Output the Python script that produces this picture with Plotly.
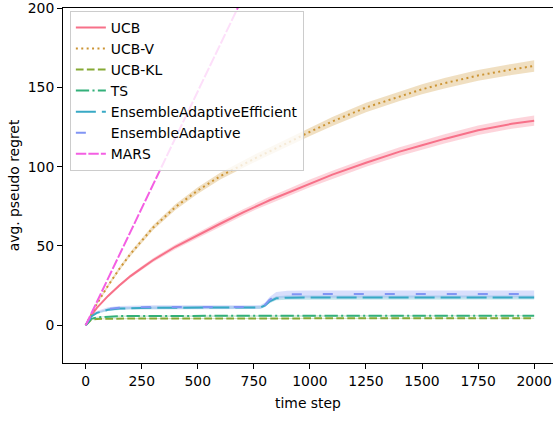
import plotly.graph_objects as go

# ---------------- data ----------------
steps = [0, 25, 50, 100, 150, 200, 250, 300, 400, 500, 600, 700, 750, 780, 800, 820, 850, 900,
         1000, 1100, 1250, 1400, 1500, 1600, 1750, 1900, 2000]

ucb = [0, 6, 11, 18.5, 25, 31, 36, 41, 49.5, 57, 64, 71, 74.5, 76.5, 77.5, 78.8, 80.5, 83.5,
       89.5, 95, 102.5, 109.5, 113.5, 117.5, 123, 127, 129]
ucb_sd = [0, 0.3, 0.5, 0.7, 0.9, 1.0, 1.2, 1.3, 1.5, 1.7, 1.9, 2.0, 2.1, 2.1, 2.2, 2.2, 2.2, 2.3,
          2.4, 2.5, 2.6, 2.7, 2.8, 2.9, 3.0, 3.1, 3.2]

ucbv = [0, 7, 13.5, 25, 35.5, 45, 53.5, 61.5, 74.5, 85, 94, 101.5, 105, 107, 108.3, 109.6, 111.6, 115,
        122, 128.5, 137.3, 144.5, 148.8, 152.6, 157.5, 161.3, 163.5]
ucbv_sd = [0, 0.5, 0.8, 1.0, 1.2, 1.4, 1.5, 1.6, 1.8, 2.0, 2.1, 2.3, 2.4, 2.4, 2.5, 2.5, 2.5, 2.6,
           2.7, 2.8, 3.0, 3.1, 3.2, 3.3, 3.4, 3.5, 3.6]

ucbkl = [0, 3.5, 4.0, 4.2, 4.3, 4.3, 4.3, 4.3, 4.3, 4.3, 4.3, 4.4, 4.4, 4.4, 4.4, 4.4, 4.4, 4.4,
         4.4, 4.4, 4.4, 4.4, 4.4, 4.4, 4.4, 4.4, 4.4]
ucbkl_sd = [0, 0.2, 0.25, 0.3, 0.3, 0.3, 0.3, 0.3, 0.3, 0.3, 0.3, 0.3, 0.3, 0.3, 0.3, 0.3, 0.3, 0.3,
            0.3, 0.3, 0.3, 0.3, 0.3, 0.3, 0.3, 0.3, 0.3]

ts = [0, 4.0, 5.0, 5.6, 5.8, 5.9, 5.9, 5.9, 6.0, 6.0, 6.0, 6.0, 6.0, 6.0, 6.0, 6.0, 6.0, 6.0,
      6.0, 6.0, 6.0, 6.0, 6.0, 6.0, 6.0, 6.0, 6.0]
ts_sd = [0, 0.2, 0.3, 0.3, 0.3, 0.3, 0.3, 0.3, 0.3, 0.3, 0.3, 0.3, 0.3, 0.3, 0.3, 0.3, 0.3, 0.3,
         0.3, 0.3, 0.3, 0.3, 0.3, 0.3, 0.3, 0.3, 0.3]

eae = [0, 5.5, 7.8, 9.8, 10.5, 10.8, 11.0, 11.0, 11.1, 11.1, 11.1, 11.1, 11.1, 11.2, 12.5, 15.0, 17.0, 17.4,
       17.5, 17.5, 17.5, 17.5, 17.5, 17.5, 17.5, 17.5, 17.5]
eae_sd = [0, 0.4, 0.6, 0.8, 0.9, 0.9, 0.9, 0.9, 0.9, 0.9, 0.9, 0.9, 0.9, 0.9, 1.0, 1.2, 1.3, 1.3,
          1.3, 1.3, 1.3, 1.3, 1.3, 1.3, 1.3, 1.3, 1.3]

ea = [0, 5.8, 8.2, 10.3, 11.0, 11.3, 11.5, 11.5, 11.5, 11.5, 11.5, 11.5, 11.5, 11.6, 13.0, 16.0, 18.8, 19.5,
      19.7, 19.7, 19.7, 19.7, 19.7, 19.7, 19.7, 19.7, 19.7]
ea_sd = [0, 0.5, 0.8, 1.0, 1.1, 1.1, 1.1, 1.1, 1.1, 1.1, 1.1, 1.1, 1.1, 1.1, 1.4, 1.8, 2.1, 2.2,
         2.2, 2.2, 2.2, 2.2, 2.2, 2.2, 2.2, 2.2, 2.2]

mars_steps = [0, 100, 200, 300, 400, 500, 600, 700, 800, 900]
mars = [0, 29.5, 59, 88.5, 118, 147.5, 177, 206.5, 236, 265.5]

x_ticks = [0, 250, 500, 750, 1000, 1250, 1500, 1750, 2000]
y_ticks = [0, 50, 100, 150, 200]

# ---------------- figure ----------------
series = [
    ("UCB", steps, ucb, ucb_sd, "#f77189", "solid"),
    ("UCB-V", steps, ucbv, ucbv_sd, "#cc9433", "2px,3.4px"),
    ("UCB-KL", steps, ucbkl, ucbkl_sd, "#86a935", "7.7px,3.3px"),
    ("TS", steps, ts, ts_sd, "#33b07a", "13.3px,3.3px,2.1px,3.3px"),
    ("EnsembleAdaptiveEfficient", steps, eae, eae_sd, "#38a9c5", "20px,6px"),
    ("EnsembleAdaptive", steps, ea, ea_sd, "#8195f4", "10px,21px"),
    ("MARS", mars_steps, mars, None, "#f45fe3", "10.4px,2.1px"),
]


def rgba(hexc, a):
    h = hexc.lstrip("#")
    r, g, b = int(h[0:2], 16), int(h[2:4], 16), int(h[4:6], 16)
    return f"rgba({r},{g},{b},{a})"


fig = go.Figure()
for name, xs, ys, sd, col, dash in series:
    if sd is not None:
        upper = [y + s for y, s in zip(ys, sd)]
        lower = [y - s for y, s in zip(ys, sd)]
        fig.add_trace(go.Scatter(
            x=list(xs) + list(xs)[::-1], y=upper + lower[::-1],
            fill="toself", fillcolor=rgba(col, 0.3), line=dict(width=0),
            mode="lines", showlegend=False, hoverinfo="skip"))
for name, xs, ys, sd, col, dash in series:
    fig.add_trace(go.Scatter(
        x=xs, y=ys, mode="lines", name=name,
        line=dict(color=col, width=2, dash=dash)))

FS = 13.9
axis_font = dict(family="DejaVu Sans", size=FS, color="black")
fig.update_layout(
    width=553, height=421,
    margin=dict(l=63, r=0, t=5, b=58),
    paper_bgcolor="white", plot_bgcolor="white",
    font=axis_font,
    showlegend=True,
    legend=dict(
        x=0.014, y=0.992, xanchor="left", yanchor="top",
        bgcolor="rgba(255,255,255,0.8)", bordercolor="#cccccc", borderwidth=1,
        font=dict(family="DejaVu Sans", size=FS, color="black"),
        tracegroupgap=0, itemwidth=30,
    ),
    xaxis=dict(
        range=[-101, 2084], tickvals=x_ticks, ticktext=[str(v) for v in x_ticks],
        showgrid=False, zeroline=False, showline=True, linecolor="black", linewidth=1,
        mirror=True, ticks="outside", ticklen=5, tickcolor="black",
        title=dict(text="time step", font=axis_font, standoff=10),
    ),
    yaxis=dict(
        range=[-23.8, 200.05], tickvals=y_ticks, ticktext=[str(v) for v in y_ticks],
        showgrid=False, zeroline=False, showline=True, linecolor="black", linewidth=1,
        ticks="outside", ticklen=5, tickcolor="black", ticklabeloverflow="allow",
        title=dict(text="avg. pseudo regret", font=axis_font, standoff=4),
    ),
)

fig.write_html("out.html")
